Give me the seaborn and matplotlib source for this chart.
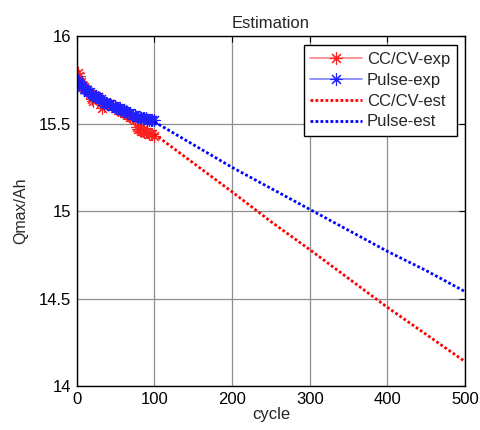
import matplotlib
matplotlib.use("Agg")
import matplotlib.pyplot as plt
import seaborn as sns
import numpy as np

# ---- data ----
exp_cycles = list(range(1, 100, 2))
ccv_exp = [15.79, 15.77, 15.74, 15.72, 15.71, 15.70, 15.69, 15.68, 15.67, 15.64,
           15.63, 15.65, 15.66, 15.65, 15.64, 15.62, 15.59, 15.60, 15.62, 15.62,
           15.61, 15.61, 15.60, 15.60, 15.59, 15.59, 15.58, 15.58, 15.57, 15.57,
           15.56, 15.56, 15.55, 15.55, 15.54, 15.54, 15.53, 15.52, 15.48, 15.47,
           15.47, 15.46, 15.46, 15.45, 15.45, 15.45, 15.44, 15.44, 15.44, 15.43]
pulse_exp = [15.75, 15.74, 15.72, 15.71, 15.70, 15.70, 15.69, 15.68, 15.68, 15.67,
             15.66, 15.66, 15.65, 15.65, 15.64, 15.64, 15.63, 15.62, 15.62, 15.61,
             15.61, 15.61, 15.60, 15.60, 15.60, 15.59, 15.59, 15.59, 15.58, 15.58,
             15.57, 15.57, 15.56, 15.56, 15.56, 15.55, 15.55, 15.55, 15.54, 15.54,
             15.54, 15.53, 15.53, 15.53, 15.53, 15.52, 15.52, 15.52, 15.52, 15.52]
est_cycles = [100, 150, 200, 250, 300, 350, 400, 450, 500]
ccv_est = [15.44, 15.275, 15.11, 14.94, 14.78, 14.615, 14.45, 14.295, 14.14]
pulse_est = [15.51, 15.38, 15.25, 15.13, 15.01, 14.89, 14.77, 14.66, 14.54]

labels = ["CC/CV-exp", "Pulse-exp", "CC/CV-est", "Pulse-est"]
xticks = [0, 100, 200, 300, 400, 500]
yticks = [14, 14.5, 15, 15.5, 16]
ytick_labels = ["14", "14.5", "15", "15.5", "16"]

sns.set_style("white")
plt.rcParams['font.family'] = ['Liberation Sans', 'DejaVu Sans']

fig = plt.figure(figsize=(4.8, 4.3), dpi=100)
ax = fig.add_axes([0.160, 0.102, 0.809, 0.814])

ast = (8, 2, 0)
sns.lineplot(x=exp_cycles, y=ccv_exp, ax=ax, color="#ff8080", lw=1.2,
             marker=ast, markersize=9, markeredgecolor="#ff2020", markeredgewidth=0.8,
             label=labels[0], sort=False, estimator=None)
sns.lineplot(x=exp_cycles, y=pulse_exp, ax=ax, color="#8080ff", lw=1.2,
             marker=ast, markersize=9, markeredgecolor="#2020ff", markeredgewidth=0.8,
             label=labels[1], sort=False, estimator=None)
sns.lineplot(x=est_cycles, y=ccv_est, ax=ax, color="red", lw=2,
             linestyle=(0, (1, 0.8)), label=labels[2], sort=False, estimator=None)
sns.lineplot(x=est_cycles, y=pulse_est, ax=ax, color="blue", lw=2,
             linestyle=(0, (1, 0.8)), label=labels[3], sort=False, estimator=None)

ax.set_xlim(0, 500)
ax.set_ylim(14, 16)
ax.set_xticks(xticks)
ax.set_yticks(yticks)
ax.set_yticklabels(ytick_labels)
ax.grid(True, color="#8f8f8f", lw=0.9)
ax.set_axisbelow(True)
for s in ax.spines.values():
    s.set_visible(True)
    s.set_color("black")
    s.set_linewidth(1.0)
ax.tick_params(direction="in", length=4, width=0.8, top=True, right=True,
               labelsize=12, colors="black", pad=4)
ax.set_xlabel("cycle", fontsize=12, labelpad=0)
ax.set_ylabel("Qmax/Ah", fontsize=11.5, labelpad=8)
ax.set_title("Estimation", fontsize=12, pad=6)

leg = ax.legend(loc="upper right", bbox_to_anchor=(0.979, 0.974), fontsize=12,
                frameon=True, fancybox=False, framealpha=1, edgecolor="black",
                handlelength=3.1, handletextpad=0.3, labelspacing=0.35,
                borderpad=0.4, borderaxespad=0)
leg.get_frame().set_linewidth(1.0)

fig.savefig("out.png", dpi=100)
